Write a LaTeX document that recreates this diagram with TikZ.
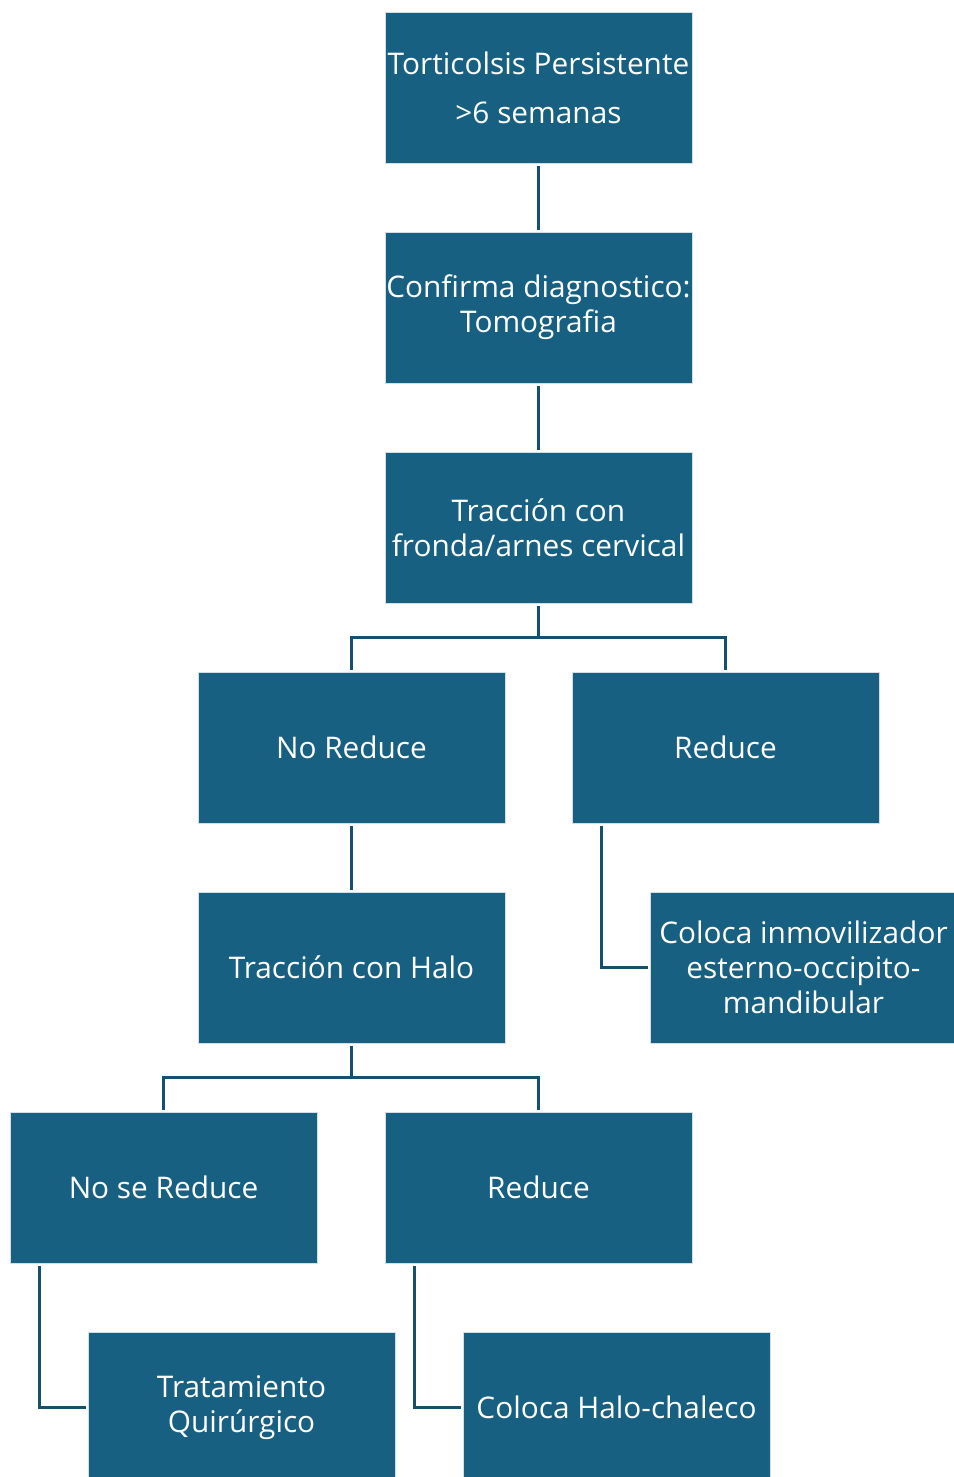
\documentclass[tikz,border=0pt]{standalone}
\usepackage{fontspec}
\setmainfont{Open Sans}
\definecolor{boxfill}{HTML}{186082}
\definecolor{linec}{HTML}{15506F}
\begin{document}
\begin{tikzpicture}[x=1pt,y=-1pt,
  box/.style={rectangle, fill=boxfill, draw=white!80!boxfill, line width=0.6pt,
    minimum width=307pt, minimum height=151pt, inner sep=0pt, text=white,
    align=center, font=\fontsize{29.8}{35}\selectfont},
  conn/.style={draw=linec, line width=2.6pt}]
\useasboundingbox (0,0) rectangle (953,1477);
\node[box] (b1) at (538.5,87.5) {Torticolsis Persistente\\[14pt]>6 semanas};
\node[box] (b2) at (538.5,307.5) {Confirma diagnostico:\\Tomografia};
\node[box] (b3) at (538.5,527.5) {Tracción con\\fronda/arnes cervical};
\node[box] (nr) at (351.5,747.5) {No Reduce};
\node[box] (r1) at (725.5,747.5) {Reduce};
\node[box] (halo) at (351.5,967.5) {Tracción con Halo};
\node[box] (inm) at (803.5,967.5) {Coloca inmovilizador\\esterno-occipito-\\mandibular};
\node[box] (nsr) at (163.5,1187.5) {No se Reduce};
\node[box] (r2) at (538.5,1187.5) {Reduce};
\node[box] (qx) at (241.5,1407.5) {Tratamiento\\Quirúrgico};
\node[box] (hc) at (616.5,1407.5) {Coloca Halo-chaleco};
\draw[conn] ([yshift=-3pt]b1.south) -- ([yshift=2pt]b2.north);
\draw[conn] ([yshift=-3pt]b2.south) -- ([yshift=2pt]b3.north);
\draw[conn] ([yshift=-3pt]b3.south) -- ++(0,31) -| ([yshift=2pt]nr.north);
\draw[conn] ([yshift=-3pt]b3.south) -- ++(0,31) -| ([yshift=2pt]r1.north);
\draw[conn] ([yshift=-3pt]nr.south) -- ([yshift=2pt]halo.north);
\draw[conn] ([xshift=30pt,yshift=-3pt]r1.south west) |- ([xshift=-2pt]inm.west);
\draw[conn] ([yshift=-3pt]halo.south) -- ++(0,31) -| ([yshift=2pt]nsr.north);
\draw[conn] ([yshift=-3pt]halo.south) -- ++(0,31) -| ([yshift=2pt]r2.north);
\draw[conn] ([xshift=30pt,yshift=-3pt]nsr.south west) |- ([xshift=-2pt]qx.west);
\draw[conn] ([xshift=30pt,yshift=-3pt]r2.south west) |- ([xshift=-2pt]hc.west);
\end{tikzpicture}
\end{document}
